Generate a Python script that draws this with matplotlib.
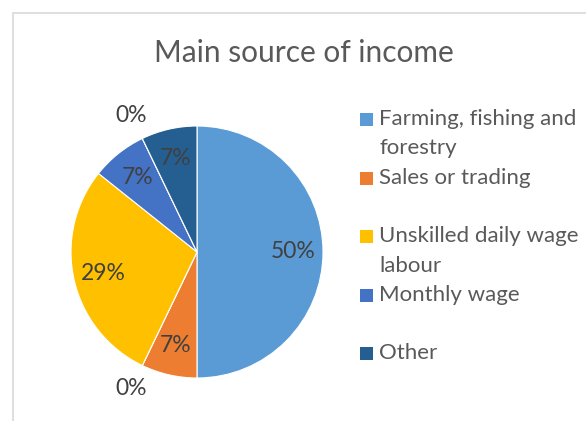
import matplotlib
matplotlib.use('Agg')
import matplotlib.pyplot as plt
from matplotlib.patches import Rectangle

# data: 14 respondents, two empty categories kept as in the source sheet
categories = ['Farming, fishing and\nforestry', 'Sales or trading', '',
              'Unskilled daily wage\nlabour', 'Monthly wage', '', 'Other']
counts = [7, 1, 0, 4, 1, 0, 1]
colors = ['#5B9BD5', '#ED7D31', '#A5A5A5', '#FFC000', '#4472C4', '#70AD47', '#255E91']

plt.rcParams['font.family'] = ['Lato', 'DejaVu Sans']

W, H = 586, 421
fig = plt.figure(figsize=(W / 100, H / 100), dpi=100)

# chart border (cropped at right and bottom)
fig.patches.append(Rectangle((12.5 / W, -0.1), 2, (H - 12.5) / H + 0.1,
                             transform=fig.transFigure, fill=False,
                             edgecolor='#D9D9D9', linewidth=1.2))

fig.text(304 / W, 1 - 53 / H, 'Main source of income', ha='center', va='center',
         fontsize=21.5, color='#595959')

# pie, radius 126 px, centre at (197, 252)
cx, cy, r = 197, 252, 126
ax = fig.add_axes([(cx - r) / W, 1 - (cy + r) / H, 2 * r / W, 2 * r / H])
wedges, texts, autotexts = ax.pie(counts, colors=colors, startangle=90, counterclock=False,
                                  autopct='%1.0f%%', pctdistance=0.76,
                                  wedgeprops=dict(edgecolor='white', linewidth=0.8),
                                  textprops=dict(fontsize=16.5, color='#404040'))
for cnt, t in zip(counts, autotexts):
    if cnt == 0:
        x, y = t.get_position()
        t.set_position((x * 1.2 / 0.76, y * 1.2 / 0.76))
        t.set_color('#404040')
ax.set_xlim(-1, 1)
ax.set_ylim(-1, 1)
ax.set_aspect('auto')

# legend drawn line by line, Excel style
line_h = 29.3
y = 119
for lab, col in zip(categories, colors):
    lines = lab.split('\n')
    if lab:
        fig.patches.append(Rectangle((360 / W, 1 - (y + 7) / H), 13 / W, 13 / H,
                                     transform=fig.transFigure, facecolor=col, edgecolor='none'))
    for ln in lines:
        fig.text(379 / W, 1 - y / H, ln, ha='left', va='center', fontsize=16, color='#595959')
        y += line_h

fig.savefig('out.png', dpi=100)
